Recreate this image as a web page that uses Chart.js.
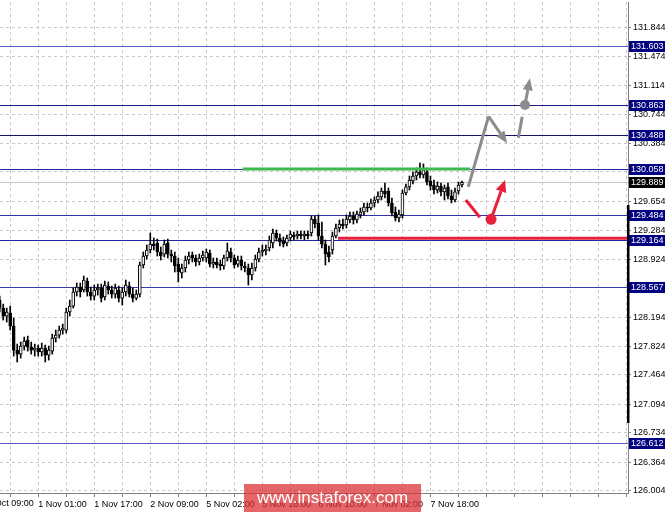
<!DOCTYPE html>
<html>
<head>
<meta charset="utf-8">
<script src="https://cdn.jsdelivr.net/npm/chart.js@4.4.0/dist/chart.umd.min.js"></script>
<style>
  html, body { margin: 0; padding: 0; background: #fff; }
  #marco { position: relative; width: 665px; height: 512px; overflow: hidden; }
  #marca {
    position: absolute; left: 244px; top: 484px; width: 177px; height: 28px;
    background: rgba(218, 48, 52, 0.74); color: #fff;
    font: 17px "Liberation Sans", Arial, sans-serif; line-height: 27px; text-align: center;
  }
</style>
</head>
<body>
<div id="marco">
  <canvas id="grafico" width="665" height="512"></canvas>
  <div id="marca">www.instaforex.com</div>
</div>
<script>
// velas H1, la barra 0 es 31 Oct 09:00
const primeraBarra = 5;

const aperturas = [
  128.408, 128.307, 128.206, 128.244, 128.080, 127.778, 127.727, 127.828, 127.904, 127.816,
  127.778, 127.803, 127.753, 127.803, 127.715, 127.765, 127.929, 127.967, 128.030, 128.030,
  128.257, 128.332, 128.509, 128.572, 128.534, 128.647, 128.509, 128.458, 128.534, 128.559,
  128.446, 128.584, 128.534, 128.483, 128.534, 128.433, 128.509, 128.584, 128.483, 128.433,
  128.483, 128.849, 128.962, 129.038, 129.113, 129.126, 129.013, 128.987, 129.126, 128.987,
  128.962, 128.861, 128.748, 128.811, 128.912, 128.975, 128.937, 128.887, 128.937, 128.937,
  129.000, 128.861, 128.887, 128.861, 128.836, 128.937, 129.013, 128.937, 128.861, 128.912,
  128.836, 128.811, 128.723, 128.811, 128.924, 129.013, 129.025, 129.063, 129.126, 129.252,
  129.189, 129.151, 129.126, 129.189, 129.227, 129.214, 129.239, 129.214, 129.239, 129.252,
  129.428, 129.378, 129.214, 129.113, 129.013, 129.038, 129.214, 129.315, 129.365, 129.353,
  129.416, 129.466, 129.416, 129.479, 129.517, 129.580, 129.567, 129.630, 129.668, 129.706,
  129.781, 129.781, 129.630, 129.517, 129.441, 129.479, 129.756, 129.832, 129.907, 129.970,
  130.021, 129.983, 130.021, 129.907, 129.857, 129.794, 129.844, 129.769, 129.832, 129.718,
  129.668, 129.781, 129.857
];
const maximos = [
  128.458, 128.357, 128.307, 128.332, 128.181, 127.853, 127.879, 127.942, 127.954, 127.879,
  127.853, 127.841, 127.866, 127.841, 127.828, 127.979, 128.030, 128.080, 128.105, 128.307,
  128.408, 128.559, 128.622, 128.622, 128.710, 128.685, 128.572, 128.597, 128.609, 128.609,
  128.647, 128.635, 128.584, 128.609, 128.584, 128.559, 128.660, 128.635, 128.559, 128.534,
  128.887, 129.013, 129.101, 129.252, 129.189, 129.176, 129.076, 129.164, 129.176, 129.038,
  129.013, 128.937, 128.861, 128.962, 129.013, 129.013, 128.975, 128.987, 129.025, 129.050,
  129.038, 128.937, 128.937, 128.912, 128.975, 129.126, 129.063, 128.975, 128.962, 128.962,
  128.887, 128.861, 128.874, 128.975, 129.063, 129.101, 129.101, 129.214, 129.302, 129.290,
  129.239, 129.202, 129.227, 129.277, 129.265, 129.277, 129.277, 129.277, 129.277, 129.466,
  129.466, 129.479, 129.391, 129.164, 129.088, 129.265, 129.365, 129.416, 129.428, 129.479,
  129.517, 129.517, 129.529, 129.567, 129.630, 129.630, 129.680, 129.706, 129.769, 129.819,
  129.882, 129.819, 129.693, 129.580, 129.542, 129.794, 129.869, 129.970, 130.021, 130.071,
  130.134, 130.122, 130.071, 129.970, 129.920, 129.895, 129.882, 129.857, 129.882, 129.794,
  129.819, 129.895, 129.907
];
const minimos = [
  128.257, 128.156, 128.131, 128.030, 127.702, 127.627, 127.677, 127.778, 127.765, 127.727,
  127.702, 127.702, 127.702, 127.627, 127.652, 127.727, 127.879, 127.929, 127.979, 127.992,
  128.206, 128.307, 128.458, 128.446, 128.509, 128.458, 128.408, 128.408, 128.471, 128.383,
  128.408, 128.483, 128.433, 128.433, 128.383, 128.345, 128.458, 128.446, 128.383, 128.408,
  128.446, 128.811, 128.924, 129.000, 129.038, 128.962, 128.912, 128.950, 128.937, 128.887,
  128.761, 128.635, 128.685, 128.761, 128.861, 128.887, 128.836, 128.849, 128.899, 128.887,
  128.824, 128.811, 128.811, 128.786, 128.798, 128.899, 128.887, 128.811, 128.824, 128.786,
  128.761, 128.597, 128.660, 128.773, 128.887, 128.962, 128.975, 129.025, 129.063, 129.151,
  129.088, 129.076, 129.088, 129.151, 129.164, 129.176, 129.176, 129.164, 129.176, 129.214,
  129.315, 129.164, 129.063, 128.849, 128.887, 128.987, 129.189, 129.265, 129.302, 129.315,
  129.378, 129.365, 129.378, 129.441, 129.479, 129.517, 129.542, 129.580, 129.630, 129.668,
  129.693, 129.592, 129.466, 129.403, 129.391, 129.441, 129.731, 129.794, 129.869, 129.920,
  129.945, 129.945, 129.857, 129.794, 129.743, 129.756, 129.718, 129.668, 129.680, 129.630,
  129.643, 129.743, 129.832
];
const cierres = [
  128.307, 128.206, 128.257, 128.080, 127.778, 127.727, 127.828, 127.891, 127.816, 127.778,
  127.803, 127.753, 127.803, 127.715, 127.778, 127.929, 127.967, 128.030, 128.055, 128.257,
  128.332, 128.509, 128.572, 128.509, 128.660, 128.509, 128.458, 128.534, 128.559, 128.433,
  128.597, 128.534, 128.483, 128.559, 128.433, 128.509, 128.597, 128.483, 128.433, 128.483,
  128.849, 128.962, 129.038, 129.113, 129.088, 129.013, 128.962, 129.113, 128.987, 128.962,
  128.836, 128.761, 128.811, 128.912, 128.962, 128.937, 128.887, 128.937, 128.975, 129.013,
  128.861, 128.887, 128.849, 128.836, 128.937, 129.025, 128.937, 128.849, 128.912, 128.836,
  128.811, 128.723, 128.811, 128.924, 129.013, 129.038, 129.050, 129.164, 129.252, 129.189,
  129.139, 129.113, 129.189, 129.239, 129.202, 129.239, 129.214, 129.239, 129.214, 129.428,
  129.365, 129.214, 129.113, 128.987, 128.950, 129.214, 129.315, 129.365, 129.340, 129.428,
  129.466, 129.416, 129.491, 129.517, 129.580, 129.567, 129.630, 129.668, 129.718, 129.781,
  129.743, 129.630, 129.504, 129.441, 129.491, 129.756, 129.832, 129.920, 129.970, 130.021,
  129.983, 130.046, 129.895, 129.844, 129.794, 129.844, 129.769, 129.819, 129.718, 129.668,
  129.769, 129.857, 129.889
];

// etiquetas del eje de tiempo, una cada 16 barras
const etiquetasTiempo = ['31 Oct 09:00', '1 Nov 01:00', '1 Nov 17:00', '2 Nov 09:00', '5 Nov 02:00',
  '5 Nov 18:00', '6 Nov 10:00', '7 Nov 02:00', '7 Nov 18:00'];
const ticksPrecio = [126.004, 126.364, 126.734, 127.094, 127.464, 127.824, 128.194, 128.564, 128.924,
  129.284, 129.654, 130.024, 130.384, 130.744, 131.114, 131.474, 131.844];

const niveles = [131.603, 130.863, 130.488, 130.058, 129.484, 129.164, 128.567, 126.612];
const precioActual = 129.889;

// lineas y flechas del analisis (barra, precio)
const lineaVerde = [[74.4, 130.058], [139.3, 130.058]];
const lineaRoja = [[101.6, 129.185], [185, 129.185]];
const trazoGris = [[138.8, 129.835], [144.6, 130.72], [149.9, 130.382]];
const guionGris = [[153.1, 130.452], [154.2, 130.717]];
const puntoGris = [155.0, 130.863];
const flechaGris = [[155.0, 130.863], [156.4, 131.2]];
const trazoRojo = [[138.1, 129.668], [142.1, 129.45]];
const puntoRojo = [145.3, 129.425];
const flechaRoja = [[145.3, 129.425], [149.3, 129.92]];
const barraEje = [129.605, 126.86];

const coloresNivel = ['#5c5cc4', '#1c1c84', '#141466', '#2828a4', '#3030a8', '#2424a0', '#3a3aac', '#5c5cc0'];

const velas = aperturas.map((o, k) => ({ x: primeraBarra + k, o: o, h: maximos[k], l: minimos[k], c: cierres[k] }));
const mechas = velas.map(v => ({ x: v.x, y: [v.l, v.h] }));
const cuerpos = velas.map(v => ({ x: v.x, y: [Math.min(v.o, v.c), Math.max(v.o, v.c) + (v.o === v.c ? 0.008 : 0)] }));
const rellenos = velas.map(v => v.c >= v.o ? '#f4f4f4' : '#000000');

function flecha(ctx, x1, y1, x2, y2, color, largo, ancho) {
  const ang = Math.atan2(y2 - y1, x2 - x1);
  const bx = x2 - largo * Math.cos(ang);
  const by = y2 - largo * Math.sin(ang);
  ctx.beginPath();
  ctx.moveTo(x1, y1);
  ctx.lineTo(bx, by);
  ctx.stroke();
  ctx.fillStyle = color;
  ctx.beginPath();
  ctx.moveTo(x2, y2);
  ctx.lineTo(bx + ancho / 2 * Math.sin(ang), by - ancho / 2 * Math.cos(ang));
  ctx.lineTo(bx - ancho / 2 * Math.sin(ang), by + ancho / 2 * Math.cos(ang));
  ctx.closePath();
  ctx.fill();
}

const dibujoExtra = {
  id: 'dibujoExtra',
  beforeDatasetsDraw(chart) {
    const { ctx, chartArea: a, scales: { y } } = chart;
    ctx.save();
    ctx.beginPath();
    ctx.rect(a.left, a.top, a.width, a.height);
    ctx.clip();
    ctx.lineWidth = 1;
    const yb = Math.round(y.getPixelForValue(precioActual)) + 0.5;
    ctx.strokeStyle = '#c8c8c8';
    ctx.beginPath(); ctx.moveTo(a.left, yb); ctx.lineTo(a.right, yb); ctx.stroke();
    niveles.forEach((v, k) => {
      const yy = Math.round(y.getPixelForValue(v)) + 0.5;
      ctx.strokeStyle = coloresNivel[k];
      ctx.beginPath(); ctx.moveTo(a.left, yy); ctx.lineTo(a.right, yy); ctx.stroke();
    });
    ctx.restore();
  },
  afterDatasetsDraw(chart) {
    const { ctx, chartArea: a, scales: { x, y } } = chart;
    const px = p => [x.getPixelForValue(p[0]), y.getPixelForValue(p[1])];
    ctx.save();
    ctx.beginPath();
    ctx.rect(a.left, a.top, a.width, a.height);
    ctx.clip();
    ctx.lineCap = 'butt';
    ctx.lineWidth = 3;

    ctx.strokeStyle = '#3cba4a';
    let p1 = px(lineaVerde[0]), p2 = px(lineaVerde[1]);
    ctx.beginPath(); ctx.moveTo(p1[0], p1[1]); ctx.lineTo(p2[0], p2[1]); ctx.stroke();

    ctx.strokeStyle = '#e8203c';
    p1 = px(lineaRoja[0]); p2 = px(lineaRoja[1]);
    ctx.beginPath(); ctx.moveTo(p1[0], p1[1]); ctx.lineTo(p2[0], p2[1]); ctx.stroke();

    // analisis gris
    ctx.strokeStyle = '#8c8c8c';
    ctx.lineJoin = 'miter';
    const g = trazoGris.map(px);
    ctx.beginPath(); ctx.moveTo(g[0][0], g[0][1]); ctx.lineTo(g[1][0], g[1][1]); ctx.stroke();
    flecha(ctx, g[1][0], g[1][1], g[2][0], g[2][1], '#8c8c8c', 12, 10);
    p1 = px(guionGris[0]); p2 = px(guionGris[1]);
    ctx.beginPath(); ctx.moveTo(p1[0], p1[1]); ctx.lineTo(p2[0], p2[1]); ctx.stroke();
    p1 = px(flechaGris[0]); p2 = px(flechaGris[1]);
    flecha(ctx, p1[0], p1[1], p2[0], p2[1], '#8c8c8c', 12, 10);
    const pg = px(puntoGris);
    ctx.fillStyle = '#8c8c8c';
    ctx.beginPath(); ctx.arc(pg[0], pg[1], 5, 0, Math.PI * 2); ctx.fill();

    // analisis rojo
    ctx.strokeStyle = '#e8203c';
    p1 = px(trazoRojo[0]); p2 = px(trazoRojo[1]);
    ctx.beginPath(); ctx.moveTo(p1[0], p1[1]); ctx.lineTo(p2[0], p2[1]); ctx.stroke();
    p1 = px(flechaRoja[0]); p2 = px(flechaRoja[1]);
    flecha(ctx, p1[0], p1[1], p2[0], p2[1], '#e8203c', 12, 11);
    const pr = px(puntoRojo);
    ctx.fillStyle = '#e8203c';
    ctx.beginPath(); ctx.arc(pr[0], pr[1], 5.5, 0, Math.PI * 2); ctx.fill();
    ctx.restore();
  },
  afterDraw(chart) {
    const { ctx, chartArea: a, scales: { x, y } } = chart;
    ctx.save();
    // tramo grueso del eje derecho
    const y1 = y.getPixelForValue(barraEje[0]);
    const y2 = y.getPixelForValue(barraEje[1]);
    ctx.fillStyle = '#000';
    ctx.fillRect(a.right - 1, y1, 2.5, y2 - y1);

    // etiqueta fuera de rango a la izquierda
    ctx.font = '9px "Liberation Sans"';
    ctx.fillStyle = '#000';
    ctx.textBaseline = 'top';
    ctx.textAlign = 'left';
    ctx.fillText(etiquetasTiempo[0], x.getPixelForValue(0), a.bottom + 6);

    // cajas de los niveles
    ctx.textBaseline = 'middle';
    const caja = (v, fondo) => {
      const yy = Math.round(y.getPixelForValue(v));
      ctx.fillStyle = fondo;
      ctx.fillRect(a.right + 1, yy - 5, 36, 11);
      ctx.fillStyle = '#fff';
      ctx.fillText(v.toFixed(3), a.right + 3, yy + 0.5);
    };
    niveles.forEach(v => caja(v, '#000080'));
    caja(precioActual, '#000000');
    ctx.restore();
  }
};

const ctx = document.getElementById('grafico');
Chart.defaults.font.family = '"Liberation Sans", Arial, sans-serif';
Chart.defaults.font.size = 9;

new Chart(ctx, {
  type: 'bar',
  data: {
    datasets: [
      { data: mechas, backgroundColor: '#000', barThickness: 1, grouped: false, order: 2 },
      {
        data: cuerpos, backgroundColor: rellenos, borderColor: '#000', borderWidth: 1,
        borderSkipped: false, barThickness: 3, grouped: false, order: 1
      }
    ]
  },
  options: {
    responsive: false,
    animation: false,
    layout: { padding: { top: 2, left: 0, right: 0, bottom: 0 } },
    plugins: { legend: { display: false }, tooltip: { enabled: false } },
    scales: {
      x: {
        type: 'linear',
        min: 5.083,
        max: 184.41,
        offset: false,
        grid: { color: '#c8c8c8', tickColor: '#808080', tickLength: 4, offset: false },
        border: { display: true, color: '#808080', dash: [3, 3] },
        afterBuildTicks: (escala) => {
          const marcas = [];
          for (let v = 8; v <= 184; v += 8) marcas.push({ value: v });
          escala.ticks = marcas;
        },
        afterFit: (escala) => {
          escala.height = 19;
          escala.paddingLeft = 0;
          escala.paddingRight = 0;
        },
        ticks: {
          autoSkip: false, minRotation: 0, maxRotation: 0, align: 'start', color: '#000', padding: 2,
          callback: (v) => (v % 16 === 0 && v / 16 < etiquetasTiempo.length) ? etiquetasTiempo[v / 16] : ''
        }
      },
      y: {
        position: 'right',
        min: 125.978,
        max: 132.161,
        beginAtZero: false,
        grid: { color: '#c8c8c8', tickColor: '#808080', tickLength: 3 },
        border: { display: true, color: '#808080', dash: [3, 3] },
        afterBuildTicks: (escala) => {
          escala.ticks = ticksPrecio.map(v => ({ value: v }));
        },
        afterFit: (escala) => {
          escala.width = 37;
          escala.paddingTop = 0;
          escala.paddingBottom = 0;
        },
        ticks: { autoSkip: false, color: '#000', padding: 2, callback: (v) => Number(v).toFixed(3) }
      }
    }
  },
  plugins: [dibujoExtra]
});
</script>
</body>
</html>
